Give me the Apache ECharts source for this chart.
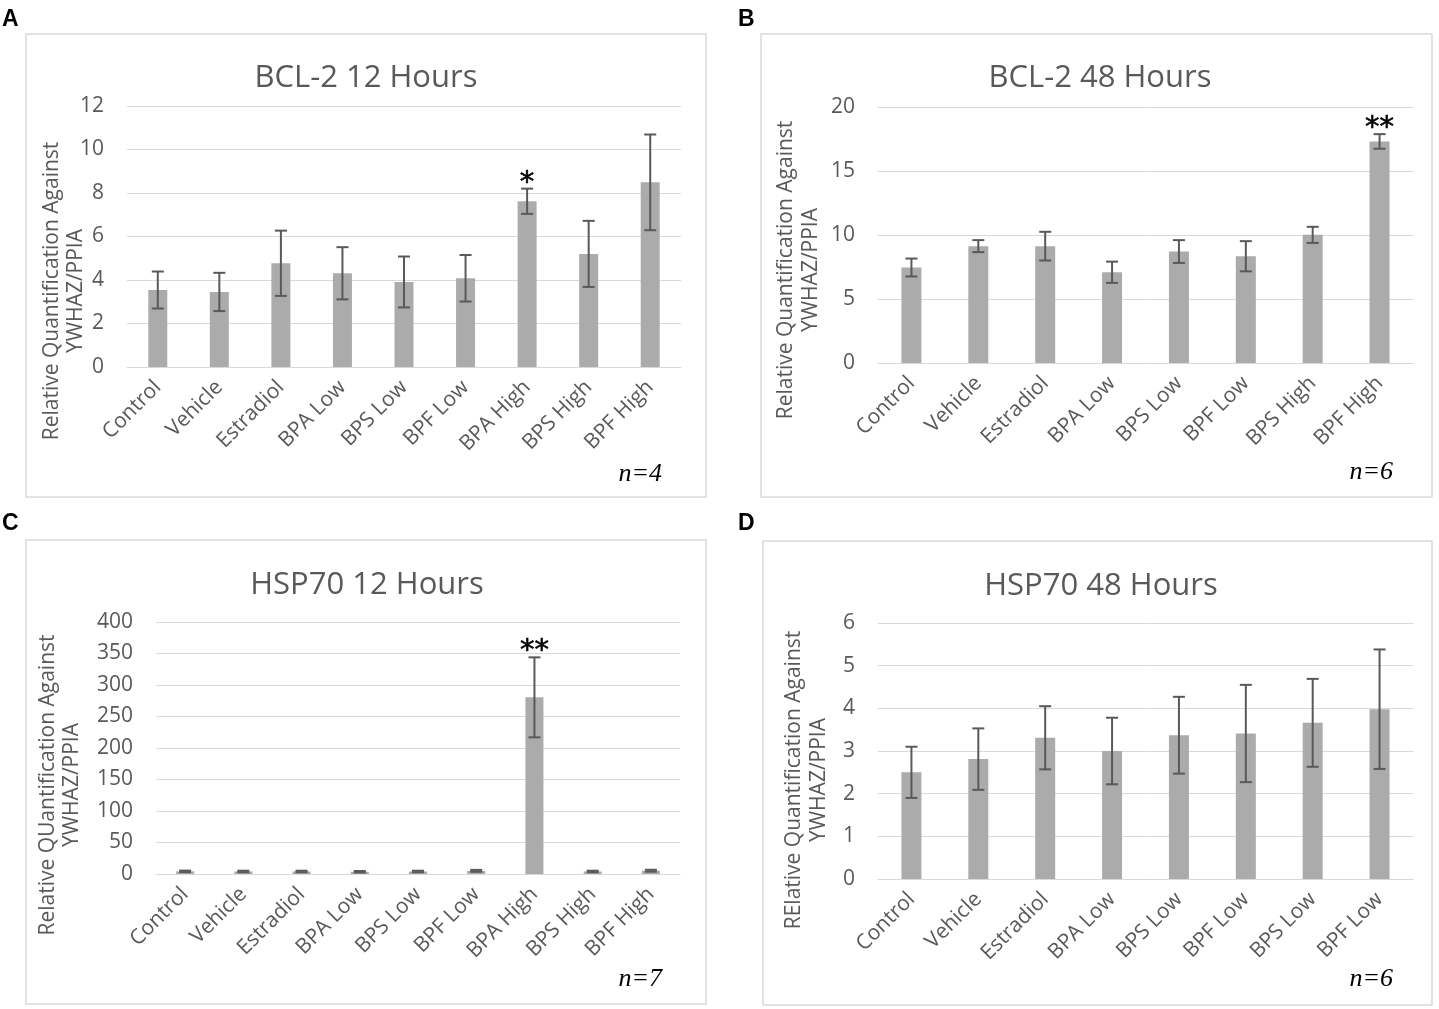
<!DOCTYPE html>
<html>
<head>
<meta charset="utf-8">
<script src="https://cdn.jsdelivr.net/npm/echarts@6/dist/echarts.min.js"></script>
<style>
  html, body { margin: 0; padding: 0; background: #fff; }
  #chart { width: 1439px; height: 1009px; }
</style>
</head>
<body>
<div id="chart"></div>
<script>
// panel A - BCL-2 12 hours
const categoriesA = ['Control', 'Vehicle', 'Estradiol', 'BPA Low', 'BPS Low', 'BPF Low', 'BPA High', 'BPS High', 'BPF High'];
const meansA = [3.54, 3.45, 4.77, 4.31, 3.91, 4.08, 7.62, 5.2, 8.49];
const errA = [0.85, 0.88, 1.5, 1.2, 1.17, 1.07, 0.58, 1.52, 2.2];
const sigA = ['', '', '', '', '', '', '*', '', ''];

// panel B - BCL-2 48 hours
const categoriesB = ['Control', 'Vehicle', 'Estradiol', 'BPA Low', 'BPS Low', 'BPF Low', 'BPS High', 'BPF High'];
const meansB = [7.46, 9.13, 9.13, 7.09, 8.71, 8.34, 10.01, 17.31];
const errB = [0.7, 0.47, 1.12, 0.83, 0.89, 1.18, 0.63, 0.57];
const sigB = ['', '', '', '', '', '', '', '**'];

// panel C - HSP70 12 hours
const categoriesC = ['Control', 'Vehicle', 'Estradiol', 'BPA Low', 'BPS Low', 'BPF Low', 'BPA High', 'BPS High', 'BPF High'];
const meansC = [4.2, 4.0, 4.0, 3.6, 4.0, 5.0, 280.4, 4.0, 5.2];
const errC = [1.2, 1.2, 1.2, 1.2, 1.2, 1.5, 63.5, 1.2, 1.5];
const sigC = ['', '', '', '', '', '', '**', '', ''];

// panel D - HSP70 48 hours (labels as printed)
const categoriesD = ['Control', 'Vehicle', 'Estradiol', 'BPA Low', 'BPS Low', 'BPF Low', 'BPS Low', 'BPF Low'];
const meansD = [2.5, 2.81, 3.31, 3.0, 3.37, 3.41, 3.66, 3.98];
const errD = [0.6, 0.72, 0.74, 0.78, 0.9, 1.14, 1.03, 1.4];
const sigD = ['', '', '', '', '', '', '', ''];

const titles = ['BCL-2 12 Hours', 'BCL-2 48 Hours', 'HSP70 12 Hours', 'HSP70 48 Hours'];
const yNames = [
  ['Relative Quantification Against', 'YWHAZ/PPIA'],
  ['Relative Quantification Against', 'YWHAZ/PPIA'],
  ['Relative QUantification Against', 'YWHAZ/PPIA'],
  ['RElative Quantification Against', 'YWHAZ/PPIA']
];
const sampleSizes = ['n=4', 'n=6', 'n=7', 'n=6'];
const panelLetters = ['A', 'B', 'C', 'D'];
const yMax = [12, 20, 400, 6];
const yStep = [2, 5, 50, 1];

const TEXT = '#595959';
const FONT = '"Open Sans", "Noto Sans", sans-serif';

const panels = [
  {cats: categoriesA, means: meansA, err: errA, sig: sigA},
  {cats: categoriesB, means: meansB, err: errB, sig: sigB},
  {cats: categoriesC, means: meansC, err: errC, sig: sigC},
  {cats: categoriesD, means: meansD, err: errD, sig: sigD}
];

// layout of each panel (pixels)
const layout = [
  {grid: {left: 127, right: 758, top: 106, bottom: 642}, box: [26, 34, 680, 463], letter: [2, 8], title: [366, 78], yname: [52, 76, 291], n: [662, 474], bar: 19},
  {grid: {left: 878, right: 26, top: 107, bottom: 646}, box: [761, 34, 671, 463], letter: [738, 8], title: [1100, 78], yname: [786, 811, 270], n: [1393, 472], bar: 20},
  {grid: {left: 156, right: 759, top: 622, bottom: 135}, box: [26, 540, 680, 464], letter: [2, 512], title: [367, 585], yname: [48, 72, 785], n: [662, 979], bar: 18},
  {grid: {left: 878, right: 26, top: 623, bottom: 130}, box: [763, 541, 669, 464], letter: [738, 512], title: [1101, 586], yname: [794, 819, 780], n: [1393, 979], bar: 20}
];

const chart = echarts.init(document.getElementById('chart'));

const grids = [], xAxes = [], yAxes = [], series = [], graphics = [];

panels.forEach(function (p, i) {
  const L = layout[i];
  grids.push(L.grid);
  xAxes.push({
    type: 'category',
    gridIndex: i,
    data: p.cats,
    axisLine: {lineStyle: {color: '#d9d9d9'}},
    axisTick: {show: false},
    axisLabel: {rotate: 45, interval: 0, color: TEXT, fontSize: 21, fontFamily: FONT, margin: 17}
  });
  yAxes.push({
    type: 'value',
    gridIndex: i,
    min: 0,
    max: yMax[i],
    interval: yStep[i],
    axisLine: {show: false},
    axisTick: {show: false},
    splitLine: {lineStyle: {color: '#d9d9d9'}},
    axisLabel: {color: TEXT, fontSize: 21, fontFamily: FONT, margin: 23}
  });
  series.push({
    type: 'bar',
    xAxisIndex: i,
    yAxisIndex: i,
    barWidth: L.bar,
    itemStyle: {color: '#ababab'},
    data: p.means,
    silent: true
  });
  series.push({
    type: 'custom',
    xAxisIndex: i,
    yAxisIndex: i,
    silent: true,
    z: 5,
    data: p.means.map(function (m, k) { return [k, m - p.err[k], m + p.err[k], p.sig[k]]; }),
    renderItem: function (params, api) {
      const lo = api.coord([api.value(0), api.value(1)]);
      const hi = api.coord([api.value(0), api.value(2)]);
      const cap = 6;
      const st = {stroke: '#595959', lineWidth: 2};
      const children = [
        {type: 'line', shape: {x1: hi[0], y1: hi[1], x2: lo[0], y2: lo[1]}, style: st},
        {type: 'line', shape: {x1: hi[0] - cap, y1: hi[1], x2: hi[0] + cap, y2: hi[1]}, style: st},
        {type: 'line', shape: {x1: lo[0] - cap, y1: lo[1], x2: lo[0] + cap, y2: lo[1]}, style: st}
      ];
      const s = p.sig[params.dataIndex];
      if (s) {
        children.push({
          type: 'text',
          style: {
            text: s, x: hi[0], y: hi[1] + 9,
            align: 'center', verticalAlign: 'bottom',
            fill: '#000', font: '29px "DejaVu Sans", sans-serif',
            stroke: '#000', lineWidth: 0.6
          }
        });
      }
      return {type: 'group', children: children};
    }
  });

  graphics.push({
    type: 'rect', silent: true,
    shape: {x: L.box[0], y: L.box[1], width: L.box[2], height: L.box[3]},
    style: {fill: 'none', stroke: '#d9d9d9', lineWidth: 1.5}
  });
  graphics.push({
    type: 'text', left: L.letter[0], top: L.letter[1],
    style: {text: panelLetters[i], fill: '#000', font: 'bold 23px "Liberation Sans", Arial, sans-serif'}
  });
  graphics.push({
    type: 'text', x: L.title[0], y: L.title[1],
    style: {text: titles[i], fill: TEXT, font: '31px ' + FONT, align: 'center', verticalAlign: 'middle'}
  });
  [0, 1].forEach(function (j) {
    graphics.push({
      type: 'text', x: L.yname[j], y: L.yname[2], rotation: Math.PI / 2,
      style: {text: yNames[i][j], fill: TEXT, font: '21px ' + FONT, align: 'center', verticalAlign: 'middle'}
    });
  });
  graphics.push({
    type: 'text', x: L.n[0], y: L.n[1],
    style: {text: sampleSizes[i], fill: '#000', font: 'italic 26px "Liberation Serif", "Times New Roman", serif', align: 'right', verticalAlign: 'middle'}
  });
});

chart.setOption({
  animation: false,
  backgroundColor: '#fff',
  grid: grids,
  xAxis: xAxes,
  yAxis: yAxes,
  series: series,
  graphic: graphics
});
</script>
</body>
</html>
